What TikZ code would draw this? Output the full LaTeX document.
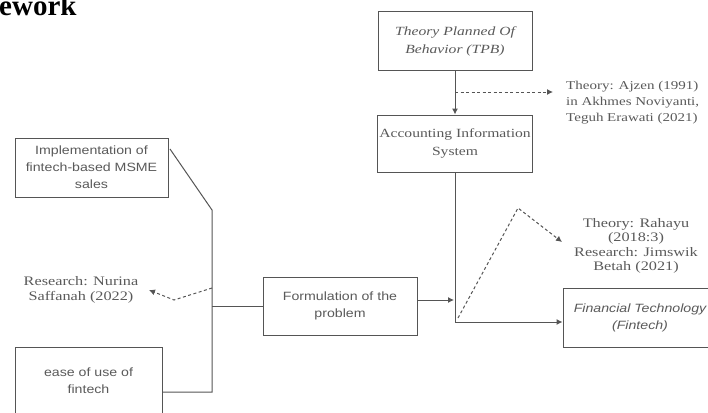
\documentclass[tikz,border=0pt]{standalone}
\usepackage{fontspec}
\setmainfont{Liberation Serif}
\setsansfont{Liberation Sans}
\newfontfamily\wrm[FakeStretch=1.25]{Liberation Serif}
\newfontfamily\wsf[FakeStretch=1.18]{Liberation Sans}
\usetikzlibrary{arrows.meta}
\definecolor{linec}{HTML}{555555}
\definecolor{txtc}{HTML}{5A5A5A}
\tikzset{
  box/.style={draw=linec, line width=1pt, minimum width=154pt, minimum height=58pt, align=center, text=txtc, inner sep=2pt},
  serift/.style={font=\wrm\fontsize{12.5}{18}\selectfont},
  serifit/.style={font=\wrm\itshape\fontsize{12.5}{18}\selectfont},
  sanst/.style={font=\wsf\fontsize{12}{17}\selectfont},
  sansit/.style={font=\wsf\itshape\fontsize{12}{17}\selectfont},
  conn/.style={draw=linec, line width=1pt},
  tip/.style={-{Latex[length=6pt,width=6pt]}},
  dsh/.style={draw=linec, line width=1pt, dash pattern=on 3pt off 2.5pt},
  note/.style={text=txtc, align=center, inner sep=0pt, font=\wrm\fontsize{13}{14.5}\selectfont}
}
\begin{document}
\begin{tikzpicture}[x=1pt,y=-1pt]
\useasboundingbox (0,0) rectangle (708,412);
\fill[white] (0,0) rectangle (708,412);
% title fragment
\node[anchor=base west, inner sep=0pt, font=\bfseries\fontsize{29}{30}\selectfont] (title) at (-1,16) {ework};
% boxes
\node[box, serifit] (tpb) at (455,41) {Theory Planned Of\\Behavior (TPB)};
\node[box, serift, minimum height=57pt] (ais) at (455,143.5) {Accounting Information\\System};
\node[box, sanst] (form) at (340,306) {Formulation of the\\problem};
\node[box, sanst, minimum width=153pt, minimum height=59pt] (impl) at (91.5,167.5) {Implementation of\\fintech-based MSME\\sales};
\node[box, sanst, minimum width=147pt, minimum height=68pt] (ease) at (88.5,381) {ease of use of\\fintech};
\node[box, sansit, minimum height=59pt] (fin) at (640,317.5) {Financial Technology\\(Fintech)};
% notes
\node[note, align=left, anchor=west, font=\wrm\fontsize{12}{16}\selectfont] (ajzen) at (566,103) {Theory: Ajzen (1991)\\in Akhmes Noviyanti,\\Teguh Erawati (2021)};
\node[note] (rahayu) at (636,246) {Theory: Rahayu\\(2018:3)\\Research: Jimswik\\Betah (2021)};
\node[note, font=\wrm\fontsize{13}{15}\selectfont] (nurina) at (81,290) {Research: Nurina\\Saffanah (2022)};
% coordinates
\coordinate (d1) at (455,92);
\coordinate (d1e) at (553,92);
\coordinate (j1) at (454,300);
\coordinate (c1) at (455,322);
\coordinate (p0) at (458,318);
\coordinate (p1) at (518,208);
\coordinate (p2) at (562,242);
\coordinate (l0) at (170,149);
\coordinate (l1) at (212,210);
\coordinate (l2) at (212,392);
\coordinate (l3) at (212,306);
\coordinate (n0) at (212,288);
\coordinate (n1) at (174,300);
\coordinate (n2) at (149,290);
% connectors
\draw[conn, tip] (tpb.south) -- (ais.north);
\draw[dsh, tip] (d1) -- (d1e);
\draw[conn, tip] (ais.south) -- (c1) -- (fin.west |- c1);
\draw[conn, tip] (form.east |- j1) -- (j1);
\draw[dsh, tip] (p0) -- (p1) -- (p2);
\draw[conn] (l0) -- (l1) -- (l2) -- (ease.east |- l2);
\draw[conn] (l3) -- (form.west);
\draw[dsh, tip] (n0) -- (n1) -- (n2);
\end{tikzpicture}
\end{document}
